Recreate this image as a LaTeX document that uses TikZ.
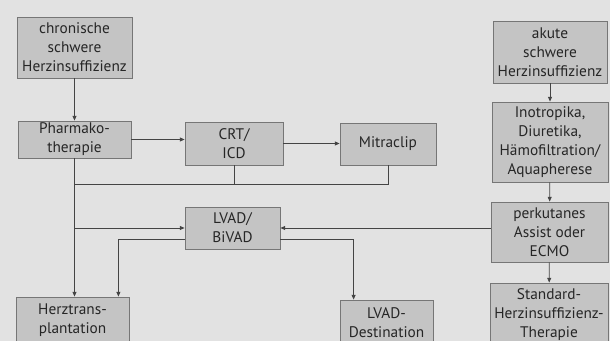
\documentclass[tikz,border=0pt]{standalone}
\usepackage{fontspec}
\setmainfont{PT Sans}
\usetikzlibrary{positioning,arrows.meta,calc}
\definecolor{bggray}{HTML}{E2E2E2}
\definecolor{boxgray}{HTML}{C4C4C4}
\definecolor{edgegray}{HTML}{767676}
\definecolor{linegray}{HTML}{444444}
\definecolor{textgray}{HTML}{262626}
\tikzset{
  >={Triangle[length=3.6pt,width=3pt]},
  box/.style={draw=edgegray,fill=boxgray,line width=0.6pt,align=center,
    inner sep=1pt,text=textgray,font=\fontsize{11.5}{14.25}\selectfont},
  link/.style={draw=linegray,line width=0.6pt},
  arr/.style={link,->},
}

\begin{document}
\begin{tikzpicture}[x=0.75pt,y=-0.75pt]
  \useasboundingbox (0,0) rectangle (610,341);
  \clip (0,0) rectangle (610,341);
  \fill[bggray] (0,0) rectangle (610,341);
  % chronischer Zweig
  \node[box,minimum width=86.25pt,minimum height=45.75pt] (chron) at (74.5,47.5)
    {chronische\\schwere\\Herzinsuffizienz};
  \node[box,minimum width=84.75pt,minimum height=27.75pt] (pharma) at (74.5,139.5)
    {Pharmako-\\therapie};
  \node[box,minimum width=73.5pt,minimum height=32.25pt] (crt) at (234,143.5)
    {CRT/\\ICD};
  \node[box,minimum width=72pt,minimum height=31.5pt] (mitra) at (388,144)
    {Mitraclip};
  \node[box,minimum width=71.25pt,minimum height=31.5pt] (lvad) at (232.5,228)
    {LVAD/\\BiVAD};
  \node[box,minimum width=84.75pt,minimum height=35.25pt] (htx) at (72.5,320.5)
    {Herztrans-\\plantation};
  \node[box,minimum width=69.75pt,minimum height=33.75pt] (dest) at (386.5,322.5)
    {LVAD-\\Destination};
  % akuter Zweig
  \node[box,minimum width=85.5pt,minimum height=46.5pt] (akut) at (550,52)
    {akute\\schwere\\Herzinsuffizienz};
  \node[box,minimum width=87pt,minimum height=60pt] (inotrop) at (550,142)
    {Inotropika,\\Diuretika,\\Hämofiltration/\\Aquapherese};
  \node[box,minimum width=87.75pt,minimum height=45pt] (perkut) at (549.5,232)
    {perkutanes\\Assist oder\\ECMO};
  \node[box,minimum width=88.5pt,minimum height=48pt] (standard) at (549,315)
    {Standard-\\Herzinsuffizienz-\\Therapie};
  \coordinate (bus) at (0,184);

  \draw[arr] (chron) -- (pharma);
  \draw[arr] (pharma) -- (pharma -| crt.west);
  \draw[arr] (crt.east) -- (crt.east -| mitra.west);
  \draw[arr] (pharma.south) -- (pharma.south |- htx.north);
  \draw[link] (crt.south) -- (crt.south |- bus);
  \draw[link] (mitra.south) -- (mitra.south |- bus) -- (pharma.south |- bus);
  \draw[arr] (pharma.south |- lvad.west) -- (lvad.west);
  \draw[arr] (perkut.west |- lvad.east) -- (lvad.east);
  \draw[arr] ([yshift=-8.25pt]lvad.west) -| ([xshift=-8.25pt]htx.north east);
  \draw[arr] ([yshift=-8.25pt]lvad.east) -| ([xshift=10.5pt]dest.north west);
  \draw[arr] (akut) -- (inotrop);
  \draw[arr] (inotrop) -- (perkut);
  \draw[arr] (perkut) -- (standard);
\end{tikzpicture}
\end{document}
